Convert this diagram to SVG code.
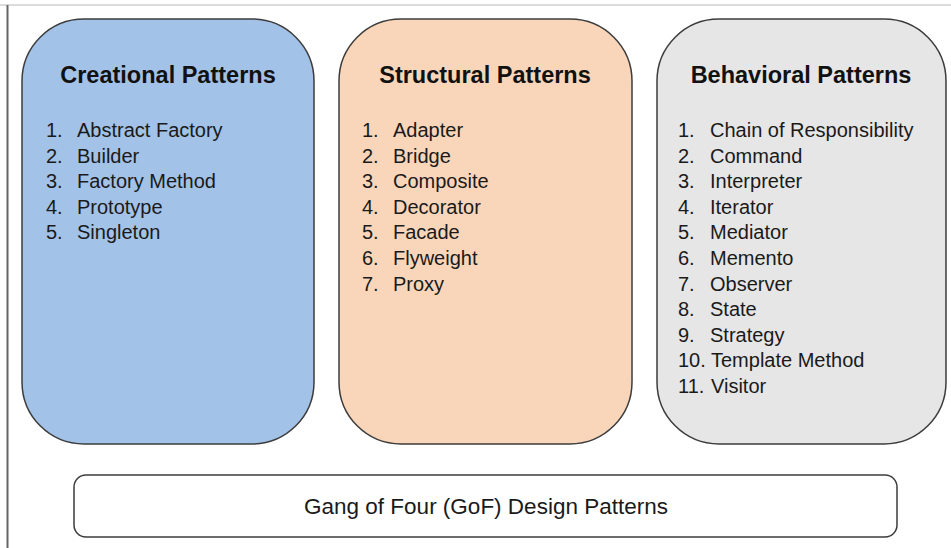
<svg xmlns="http://www.w3.org/2000/svg" width="951" height="548" viewBox="0 0 951 548">
<style>
.box{stroke:#3c3c3c;stroke-width:1.5}
.title{font-family:"Liberation Sans",Arial,sans-serif;font-weight:bold;font-size:23.5px;fill:#111;text-anchor:middle}
.item{font-family:"Liberation Sans",Arial,sans-serif;font-size:20px;fill:#1a1a1a}
.foot{font-family:"Liberation Sans",Arial,sans-serif;font-size:22.5px;fill:#1a1a1a;text-anchor:middle}
</style>
<rect width="951" height="548" fill="#fff"/>
<line x1="0" y1="5" x2="951" y2="5" stroke="#d0d0d0" stroke-width="1.5"/>
<line x1="7.5" y1="5" x2="7.5" y2="548" stroke="#666" stroke-width="2"/>
<g id="creational">
<rect class="box" x="22" y="19" width="292" height="425" rx="62" ry="62" fill="#a3c2e7"/>
<text class="title" x="168" y="83">Creational Patterns</text>
<g class="item">
<text x="46" y="137">1.</text><text x="77" y="137">Abstract Factory</text>
<text x="46" y="162.6">2.</text><text x="77" y="162.6">Builder</text>
<text x="46" y="188.2">3.</text><text x="77" y="188.2">Factory Method</text>
<text x="46" y="213.8">4.</text><text x="77" y="213.8">Prototype</text>
<text x="46" y="239.4">5.</text><text x="77" y="239.4">Singleton</text>
</g>
</g>
<g id="structural">
<rect class="box" x="339" y="19" width="293" height="425" rx="62" ry="62" fill="#f9d6b9"/>
<text class="title" x="485" y="83">Structural Patterns</text>
<g class="item">
<text x="362" y="137">1.</text><text x="393" y="137">Adapter</text>
<text x="362" y="162.6">2.</text><text x="393" y="162.6">Bridge</text>
<text x="362" y="188.2">3.</text><text x="393" y="188.2">Composite</text>
<text x="362" y="213.8">4.</text><text x="393" y="213.8">Decorator</text>
<text x="362" y="239.4">5.</text><text x="393" y="239.4">Facade</text>
<text x="362" y="265">6.</text><text x="393" y="265">Flyweight</text>
<text x="362" y="290.6">7.</text><text x="393" y="290.6">Proxy</text>
</g>
</g>
<g id="behavioral">
<rect class="box" x="657" y="19" width="289" height="425" rx="62" ry="62" fill="#e6e6e6"/>
<text class="title" x="801" y="83">Behavioral Patterns</text>
<g class="item">
<text x="678" y="137">1.</text><text x="710" y="137">Chain of Responsibility</text>
<text x="678" y="162.6">2.</text><text x="710" y="162.6">Command</text>
<text x="678" y="188.2">3.</text><text x="710" y="188.2">Interpreter</text>
<text x="678" y="213.8">4.</text><text x="710" y="213.8">Iterator</text>
<text x="678" y="239.4">5.</text><text x="710" y="239.4">Mediator</text>
<text x="678" y="265">6.</text><text x="710" y="265">Memento</text>
<text x="678" y="290.6">7.</text><text x="710" y="290.6">Observer</text>
<text x="678" y="316.2">8.</text><text x="710" y="316.2">State</text>
<text x="678" y="341.8">9.</text><text x="710" y="341.8">Strategy</text>
<text x="678" y="367.4">10.</text><text x="711" y="367.4">Template Method</text>
<text x="678" y="393">11.</text><text x="711" y="393">Visitor</text>
</g>
</g>
<g id="gof">
<rect class="box" x="74" y="475" width="823" height="62" rx="12" ry="12" fill="#fff"/>
<text class="foot" x="486" y="514">Gang of Four (GoF) Design Patterns</text>
</g>
<g id="connectors"></g>
</svg>
